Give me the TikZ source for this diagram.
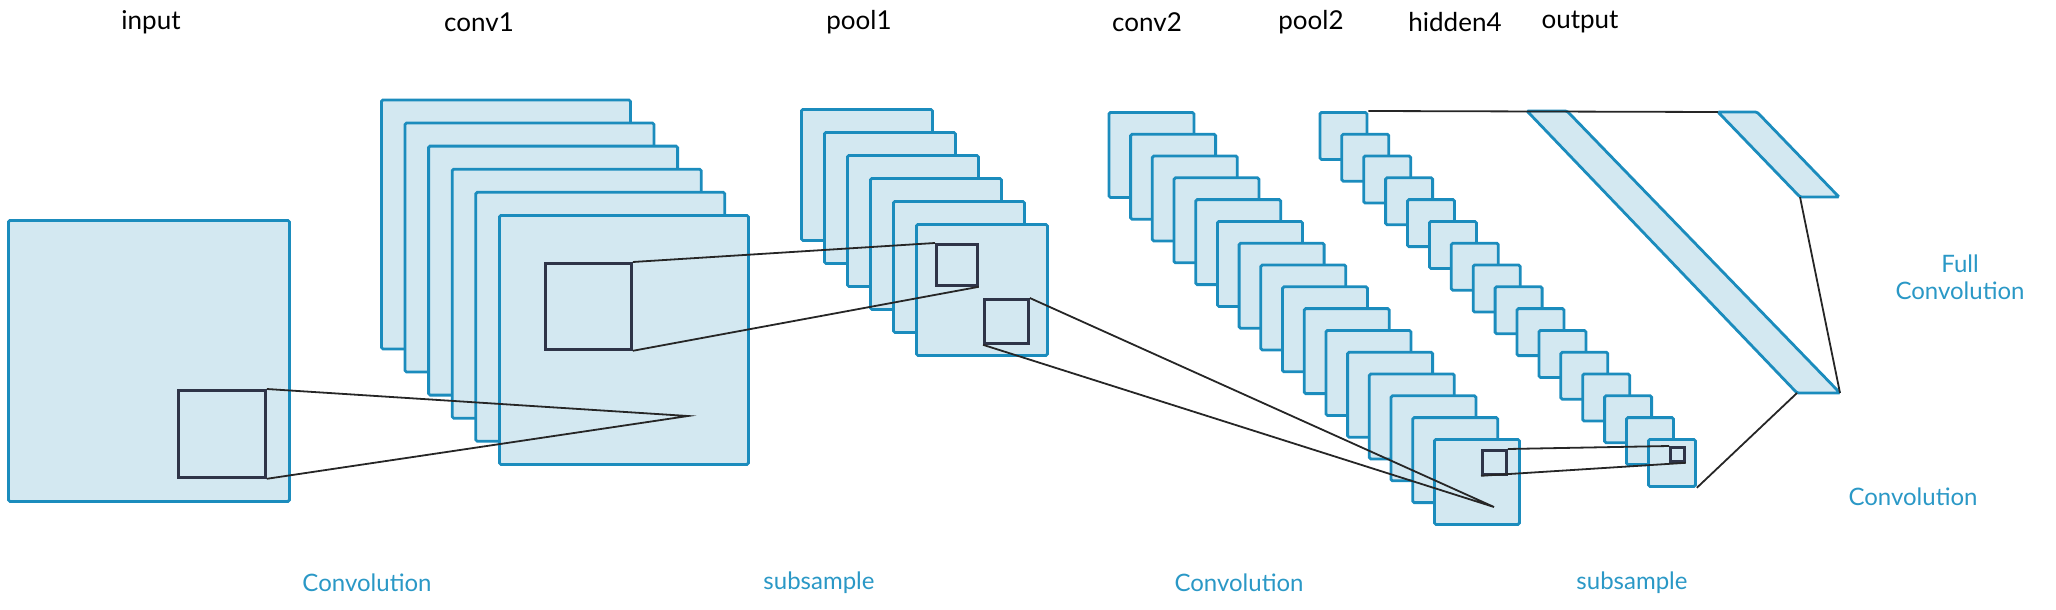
\documentclass[tikz,border=0pt]{standalone}
\usepackage{fontspec}
\setmainfont{Lato}
\usetikzlibrary{positioning,calc}
\definecolor{mapfill}{HTML}{D3E8F1}
\definecolor{mapdraw}{HTML}{1B8CBD}
\definecolor{labblue}{HTML}{2A98C6}
\definecolor{windraw}{HTML}{2E3448}
\begin{document}
\begin{tikzpicture}[x=1pt,y=-1pt,
    fmap/.style={draw=mapdraw,fill=mapfill,line width=2.8pt,rounded corners=1.5pt,inner sep=0pt,anchor=north west},
    win/.style={draw=windraw,line width=2.8pt,inner sep=0pt,anchor=north west},
    link/.style={draw=black!85,line width=1.8pt},
    toplab/.style={font=\fontsize{26}{30}\selectfont,text=black},
    oplab/.style={font=\fontsize{24}{27}\selectfont,text=labblue,align=center}
    ]
\useasboundingbox (0,0) rectangle (2056,610);
    % layer titles
    \node[toplab] (tin)  at (151,22)  {input};
    \node[toplab] (tc1)  at (479,22)  {conv1};
    \node[toplab] (tp1)  at (859,22)  {pool1};
    \node[toplab] (tc2)  at (1147,22) {conv2};
    \node[toplab] (tp2)  at (1311,22) {pool2};
    \node[toplab] (th4)  at (1455,22) {hidden4};
    \node[toplab] (tout) at (1580,22) {output};
    % feature maps
    \node[fmap,minimum size=281pt] (input) at (7,219) {};
    \foreach \i in {0,...,5}
        \node[fmap,minimum size=249pt] (conv1-\i) at ({498-23.6*(5-\i)},{214-23.1*(5-\i)}) {};
    \foreach \i in {0,...,5}
        \node[fmap,minimum size=131pt] (pool1-\i) at ({915-23*(5-\i)},{223-23*(5-\i)}) {};
    \foreach \i in {0,...,15}
        \node[fmap,minimum size=85pt] (conv2-\i) at ({1433-21.7*(15-\i)},{438-21.8*(15-\i)}) {};
    \foreach \i in {0,...,15}
        \node[fmap,minimum size=47pt] (pool2-\i) at ({1647-21.9*(15-\i)},{438-21.8*(15-\i)}) {};
    \draw[fmap] (1527,111) -- (1567,111) -- (1840,393) -- (1797,393) -- cycle;
    \draw[fmap] (1718,112) -- (1757,112) -- (1839,197) -- (1800,197) -- cycle;
    \coordinate (hidTL) at (1527,111);
    \coordinate (hidBL) at (1797,393);
    \coordinate (hidBR) at (1840,393);
    \coordinate (outTL) at (1718,112);
    \coordinate (outBL) at (1800,197);
    % receptive windows
    \node[win,minimum size=87pt] (winin) at (177,389) {};
    \node[win,minimum size=86pt] (winc1) at (544,262) {};
    \node[win,minimum size=41pt] (winpa) at (935,243) {};
    \node[win,minimum size=44pt] (winpb) at (983,298) {};
    \node[win,minimum size=24pt] (winc2) at (1481,449) {};
    \node[win,minimum size=14pt] (winp2) at (1669,446) {};
    \coordinate (focc1) at (688,416);
    \coordinate (focc2) at (1494,507);
    % connectors
    \draw[link] (winin.north east) -- (focc1) -- (winin.south east);
    \draw[link] (winc1.north east) -- (winpa.north west);
    \draw[link] (winc1.south east) -- (winpa.south east);
    \draw[link] (winpb.north east) -- (focc2) -- (winpb.south west);
    \draw[link] (winc2.north east) -- (winp2.north west);
    \draw[link] (winc2.south west) -- (winp2.south east);
    \draw[link] (pool2-0.north east) -- (outTL);
    \draw[link] (outBL) -- (hidBR);
    \draw[link] (pool2-15.south east) -- (hidBL);
    % operation labels
    \node[oplab] (lfull) at (1960,277) {Full\\Convolution};
    \node[oplab] (lconv3) at (1913,497) {Convolution};
    \node[oplab] (lconv1) at (367,583) {Convolution};
    \node[oplab] (lsub1) at (819,583) {subsample};
    \node[oplab] (lconv2) at (1239,583) {Convolution};
    \node[oplab] (lsub2) at (1632,583) {subsample};
\end{tikzpicture}
\end{document}
